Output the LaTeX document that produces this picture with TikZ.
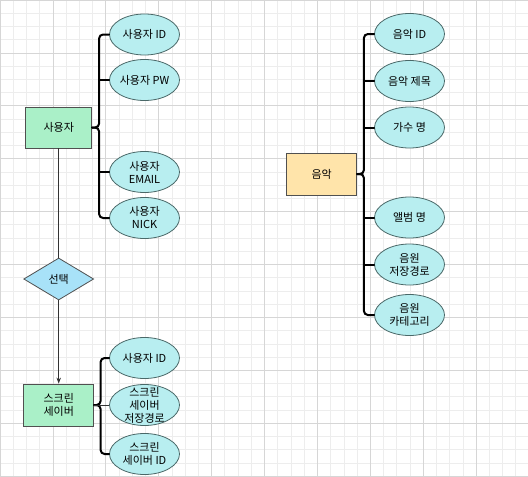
\documentclass[tikz,border=0pt]{standalone}
\usepackage{fontspec}
\setmainfont{Noto Sans CJK KR}
\usetikzlibrary{shapes.geometric,arrows.meta,calc}
\definecolor{gridminor}{HTML}{EDEDED}
\definecolor{gridmajor}{HTML}{D6D6D6}
\definecolor{entgreen}{HTML}{AAF0C8}
\definecolor{entorange}{HTML}{FFE4AA}
\definecolor{attrcyan}{HTML}{B8EEF0}
\definecolor{relblue}{HTML}{A8E2F8}
\definecolor{edgegray}{HTML}{505050}
\definecolor{attredge}{HTML}{4A6868}
\tikzset{
  entity/.style={draw=edgegray, line width=0.8pt, rectangle, minimum width=70pt, minimum height=42pt, inner sep=0pt, font=\fontsize{11}{13}\selectfont, align=center},
  attr/.style={draw=attredge, line width=0.8pt, fill=attrcyan, ellipse, minimum width=70pt, minimum height=41pt, inner sep=0pt},
  attrtext/.style={align=center, font=\fontsize{11}{13}\selectfont, inner sep=0pt},
  rel/.style={draw=edgegray, line width=0.8pt, fill=relblue, diamond, minimum width=70pt, minimum height=42pt, inner sep=0pt, font=\fontsize{11}{13}\selectfont},
  brc/.style={draw=black, line width=2pt, rounded corners=4pt, line cap=round},
  thinline/.style={draw=black!80, line width=0.8pt},
}
\begin{document}
\begin{tikzpicture}[x=1pt,y=-1pt]
\useasboundingbox (0,0) rectangle (528,477);
% grid
\foreach \i in {0,...,39} {
  \pgfmathsetmacro{\p}{\i*13.225}
  \draw[gridminor, line width=0.7pt] (\p,0) -- (\p,477);
  \draw[gridminor, line width=0.7pt] (0,\p) -- (528,\p);
}
\foreach \i in {0,...,9} {
  \pgfmathsetmacro{\p}{\i*52.9}
  \draw[gridmajor, line width=0.7pt] (\p,0) -- (\p,477);
  \draw[gridmajor, line width=0.7pt] (0,\p) -- (528,\p);
}

% entities
\node[entity, fill=entgreen, minimum width=66pt, minimum height=41pt] (u) at (58.7,127.5) {사용자};
\node[rel] (d) at (58.7,279) {선택};
\node[entity, fill=entgreen] (s) at (58.7,405) {스크린\\세이버};
\node[entity, fill=entorange] (m) at (321.7,174) {음악};

% user attributes
\node[attr, label={[attrtext]center:사용자 ID}] (uid) at (144.5,34.5) {};
\node[attr, label={[attrtext]center:사용자 PW}] (upw) at (144.5,80) {};
\node[attr, label={[attrtext]center:사용자\\EMAIL}] (uem) at (144.5,172) {};
\node[attr, label={[attrtext]center:사용자\\NICK}] (unk) at (144.5,218) {};

% screen saver attributes
\node[attr, label={[attrtext]center:사용자 ID}] (sid) at (144.5,358) {};
\node[attr, label={[attrtext]center:스크린\\세이버\\저장경로}] (spa) at (144.5,405) {};
\node[attr, label={[attrtext]center:스크린\\세이버 ID}] (ssi) at (144.5,454) {};

% music attributes
\node[attr, label={[attrtext]center:음악 ID}] (mid) at (409.5,34) {};
\node[attr, label={[attrtext]center:음악 제목}] (mti) at (409.5,81) {};
\node[attr, label={[attrtext]center:가수 명}] (msi) at (409.5,127.5) {};
\node[attr, label={[attrtext]center:앨범 명}] (mal) at (409.5,217.5) {};
\node[attr, label={[attrtext]center:음원\\저장경로}] (mpa) at (409.5,264.5) {};
\node[attr, label={[attrtext]center:음원\\카테고리}] (mca) at (409.5,315) {};

% connectors
\draw[thinline] (u.south) -- (d.north);
\draw[thinline, -{Stealth[length=6pt,width=4.5pt]}] (d.south) -- (s.north);

% braces
\coordinate (ub) at ($(u.east)+(7,0)$);
\draw[brc] (uid.west) -| (ub) -- (u.east);
\draw[brc] (unk.west) -| (ub) -- (u.east);
\draw[brc] (upw.west) -- (upw.west -| ub);
\draw[brc] (uem.west) -- (uem.west -| ub);

\coordinate (sb) at ($(s.east)+(6.5,0)$);
\draw[brc] (sid.west) -| (sb) -- (s.east);
\draw[brc] (ssi.west) -| (sb) -- (s.east);
\draw[thinline] (s.east) -- (spa.west);

\coordinate (mb) at ($(m.east)+(6.8,0)$);
\draw[brc] (mid.west) -| (mb) -- (m.east);
\draw[brc] (mca.west) -| (mb) -- (m.east);
\draw[brc] (mti.west) -- (mti.west -| mb);
\draw[brc] (msi.west) -- (msi.west -| mb);
\draw[brc] (mal.west) -- (mal.west -| mb);
\draw[brc] (mpa.west) -- (mpa.west -| mb);
\end{tikzpicture}
\end{document}
